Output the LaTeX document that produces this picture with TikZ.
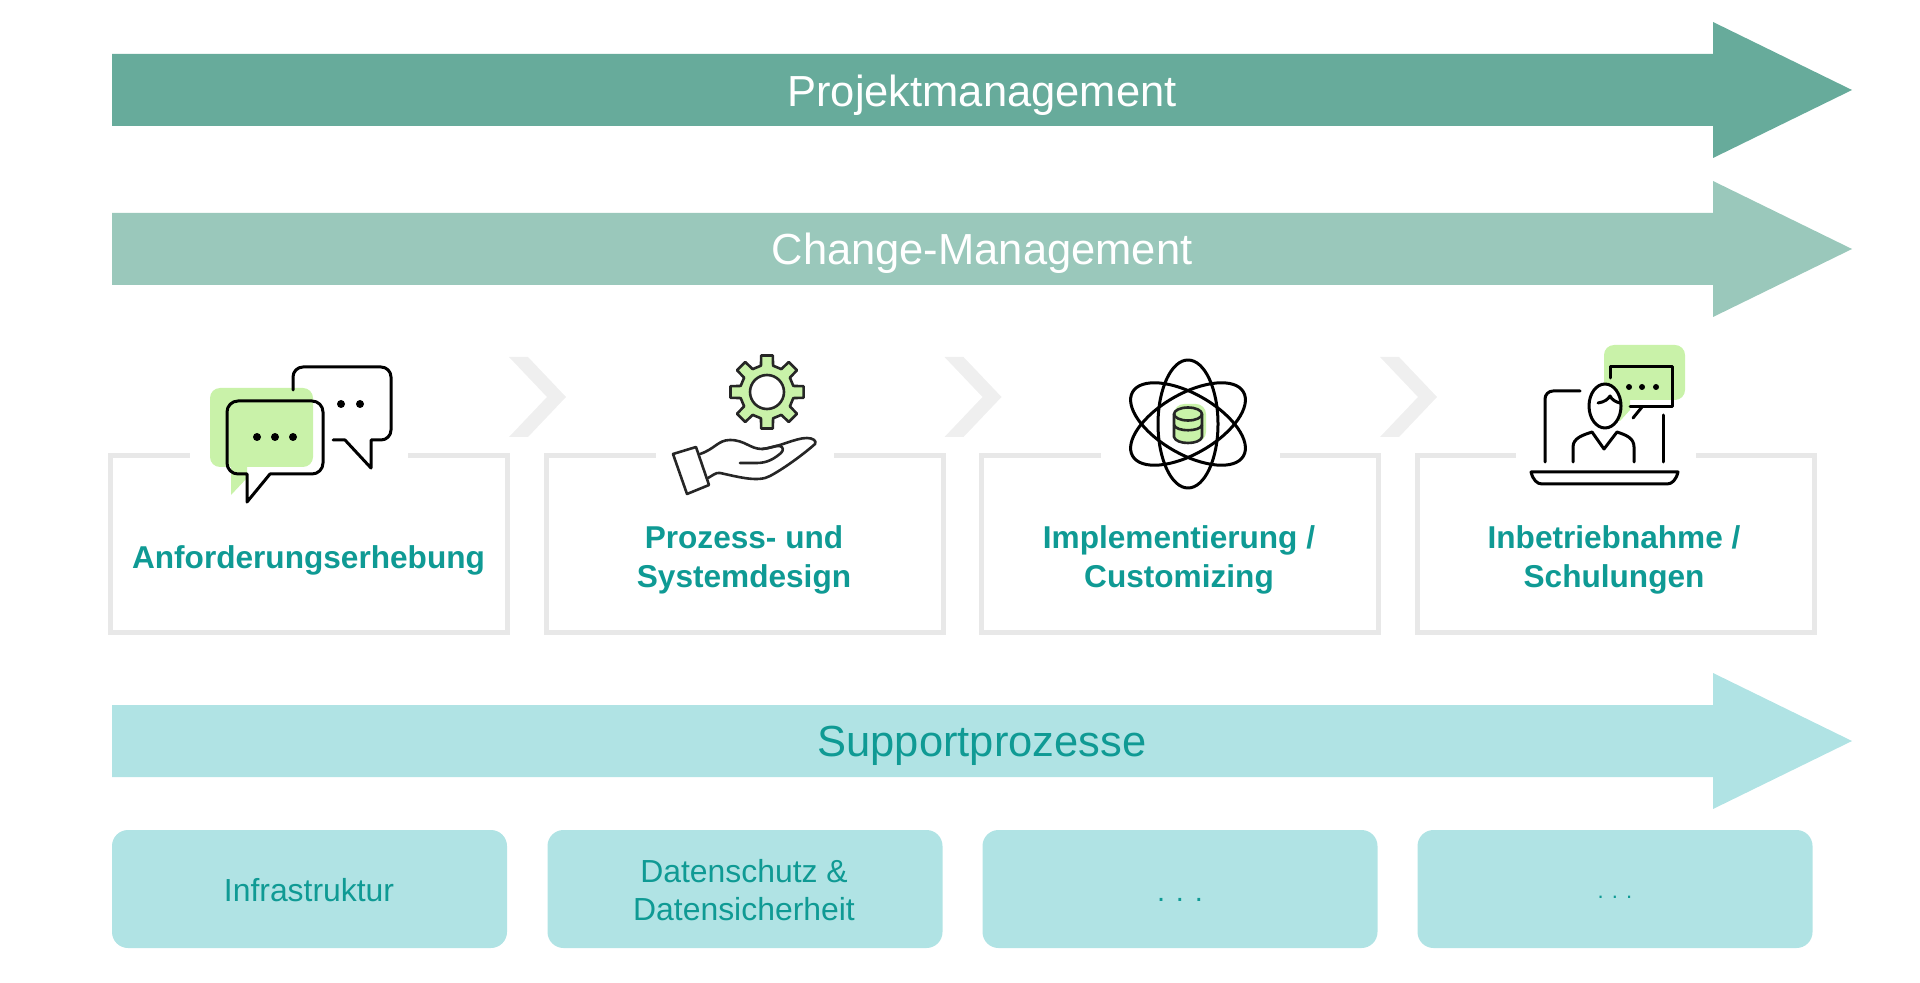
\documentclass[tikz,border=0pt]{standalone}
\usepackage{fontspec}
\setmainfont{Liberation Sans}
\definecolor{pmgreen}{HTML}{67AB9B}
\definecolor{cmgreen}{HTML}{9AC8BB}
\definecolor{supportcyan}{HTML}{B0E3E4}
\definecolor{tealtext}{HTML}{0F9A94}
\definecolor{framegray}{HTML}{E8E8E8}
\definecolor{chevrongray}{HTML}{EFEFEF}
\definecolor{icongreen}{HTML}{C9F2A9}
\tikzset{
    bartext/.style={font=\fontsize{21.75}{26}\selectfont},
    stepbox/.style={draw=framegray, line width=2.5pt, inner sep=0pt, minimum width=198.5pt, minimum height=88.5pt},
    steplabel/.style={text=tealtext, align=center, font=\fontsize{15.8}{19.25}\selectfont\bfseries},
    supportbox/.style={fill=supportcyan, rounded corners=8pt, inner sep=0pt, minimum width=197.5pt, minimum height=59pt},
    supportlabel/.style={text=tealtext, align=center, font=\fontsize{15.95}{19}\selectfont},
    iconline/.style={draw=black, line width=1.5pt, line cap=round, line join=round},
    thinicon/.style={draw=black!85, line width=1.3pt, line cap=round, line join=round}
}
\begin{document}
\begin{tikzpicture}[x=0.5pt, y=-0.5pt]
    \useasboundingbox (0,0) rectangle (1920,983);

    \foreach \y/\col in {90/pmgreen, 249/cmgreen, 741/supportcyan} {
        \fill[\col] (112,\y-36) -- (1713,\y-36) -- (1713,\y-68) -- (1852,\y) -- (1713,\y+68) -- (1713,\y+36) -- (112,\y+36) -- cycle;
    }
    \node[bartext, text=white] (pm) at (982,95) {Projektmanagement};
    \node[bartext, text=white] (cm) at (982,253) {Change-Management};
    \node[bartext, text=tealtext] (sp) at (982,746) {Supportprozesse};

    \foreach \x in {0,435.5,871} {
        \fill[chevrongray] (509+\x,357) -- (528+\x,357) -- (566+\x,397) -- (528+\x,437) -- (509+\x,437) -- (547+\x,397) -- cycle;
    }

    \node[stepbox] (s1) at (309,544) {};
    \node[stepbox] (s2) at (745,544) {};
    \node[stepbox] (s3) at (1180,544) {};
    \node[stepbox] (s4) at (1615.5,544) {};
    \fill[white] (190,448) rectangle (408,462);
    \fill[white] (656,448) rectangle (834,462);
    \fill[white] (1101,448) rectangle (1280,462);
    \fill[white] (1516,448) rectangle (1696,462);

    \node[steplabel] (l1) at (308.5,560) {Anforderungserhebung};
    \node[steplabel] (l2) at (744,560) {Prozess- und\\Systemdesign};
    \node[steplabel] (l3) at (1179,560) {Implementierung /\\Customizing};
    \node[steplabel] (l4) at (1614,560) {Inbetriebnahme /\\Schulungen};

    \node[supportbox] (b1) at (309.5,889) {};
    \node[supportbox] (b2) at (745,889) {};
    \node[supportbox] (b3) at (1180,889) {};
    \node[supportbox] (b4) at (1615,889) {};
    \node[supportlabel] (t1) at (309,890) {Infrastruktur};
    \node[supportlabel] (t2) at (744,890) {Datenschutz \&\\Datensicherheit};
    \node[supportlabel, anchor=base, font=\fontsize{14.5}{17}\selectfont] (t3) at (1180,901) {. . .};
    \node[supportlabel, anchor=base, font=\fontsize{11}{13}\selectfont] (t4) at (1615,898) {. . .};

    % bubbles
    \fill[icongreen, rounded corners=5pt] (210,388) rectangle (313,467);
    \fill[icongreen] (231,465) -- (231,495) -- (247,478) -- (247,465) -- cycle;
    \draw[iconline] (293,390) -- (293,378) [rounded corners=5pt] -- (293,367) -- (391,367) -- (391,440) [sharp corners] -- (371,440) -- (371,468) -- (345,440) -- (333,440);
    \draw[iconline] (247,474) [rounded corners=5.5pt] -- (227,474) -- (227,401) -- (323,401) -- (323,474) [sharp corners] -- (270,474) -- (247,502) -- cycle;
    \foreach \x in {257,275,293} \fill (\x,437) circle [radius=4];
    \foreach \x in {341,360} \fill (\x,404) circle [radius=4];

    % gear and hand
    \begin{scope}[shift={(767,392)}]
        \draw[thinicon, fill=icongreen] (-9:37)
            \foreach \a in {0,45,...,315} {
                -- (\a-9:37) -- (\a+9:37) -- (\a+13:27) -- (\a+32:27)
            } -- cycle;
        \draw[thinicon, fill=white] (0,0) circle [radius=17];
    \end{scope}
    \draw[thinicon] (673,454) -- (696,447) -- (709,485) -- (687,494) -- cycle;
    \draw[thinicon] (700,454) .. controls (715,449) and (718,440) .. (730,440) .. controls (745,440) and (750,449) .. (762,449) .. controls (768,449) and (775,445) .. (780,446) .. controls (783,447) and (784,450) .. (781,453) .. controls (775,458) and (768,463) .. (757,463) -- (740,463);
    \draw[thinicon] (762,449) .. controls (780,447) and (795,438) .. (807,438) .. controls (813,438) and (817,441) .. (815,444) .. controls (805,453) and (785,468) .. (770,476) .. controls (758,483) and (735,476) .. (720,473) .. controls (716,472) and (712,476) .. (708,478);

    % atom
    \fill[icongreen, rounded corners=5pt] (1174,404) rectangle (1206,442);
    \foreach \r in {0,60,-60} \draw[iconline] (1188,424) ellipse [x radius=30, y radius=64, rotate=\r];
    \draw[thinicon] (1174,414) -- (1174,437) .. controls (1176,445) and (1200,445) .. (1202,437) -- (1202,414);
    \draw[thinicon] (1188,414) ellipse [x radius=14, y radius=6.5];
    \draw[thinicon] (1174,425) .. controls (1176,432) and (1200,432) .. (1202,425);

    % laptop
    \fill[icongreen, rounded corners=5pt] (1604,345) rectangle (1685,400);
    \fill[icongreen] (1610,396) -- (1630,396) -- (1630,410) -- (1620,421) -- (1610,421) -- cycle;
    \draw[iconline] (1610,378) -- (1610,367) -- (1672,367) -- (1672,407) -- (1630,407);
    \draw[iconline] (1642,407) -- (1633,418);
    \foreach \x in {1629,1642,1656} \fill (\x,387) circle [radius=3];
    \draw[iconline, fill=white] (1605,406) ellipse [x radius=16, y radius=22];
    \draw[iconline] (1598,403) .. controls (1605,402) and (1608,399) .. (1610,396) .. controls (1612,400) and (1616,402) .. (1620,403);
    \draw[iconline] (1580,391) [rounded corners=4pt] -- (1545,391) -- (1545,426) [sharp corners] -- (1545,462);
    \draw[iconline] (1663,415) -- (1663,462);
    \draw[iconline] (1573,462) -- (1573,447) .. controls (1573,438) and (1583,435) .. (1592,432) -- (1604,449) -- (1617,432) .. controls (1626,435) and (1634,438) .. (1634,447) -- (1634,462);
    \draw[iconline] (1531,472) -- (1678,472) .. controls (1676,480) and (1672,484) .. (1667,484) -- (1542,484) .. controls (1537,484) and (1533,480) .. (1531,472) -- cycle;
\end{tikzpicture}
\end{document}
